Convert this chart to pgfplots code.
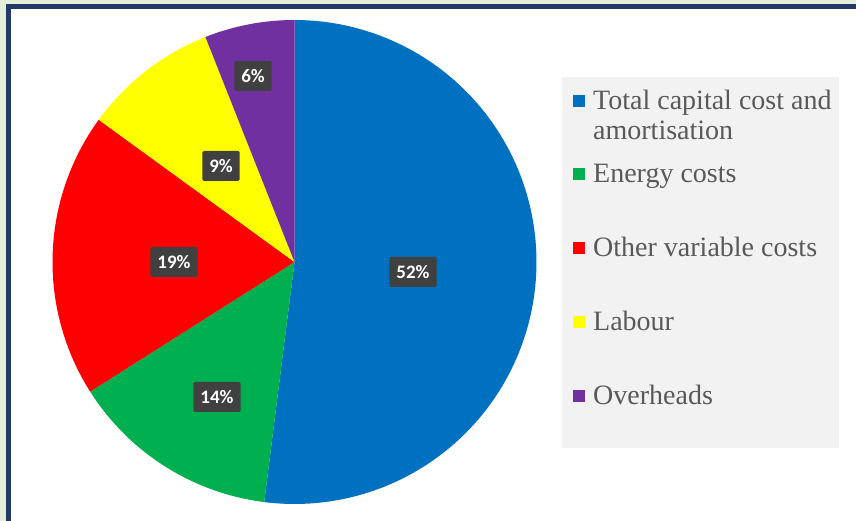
\documentclass[border=0pt]{standalone}
\usepackage{pgfplots}
\pgfplotsset{compat=1.18}
\usepackage{fontspec}
\setmainfont{Liberation Serif}
\newfontfamily\calibri{Carlito}
\definecolor{pblue}{RGB}{0,112,192}
\definecolor{pgreen}{RGB}{0,176,80}
\definecolor{pred}{RGB}{255,0,0}
\definecolor{pyellow}{RGB}{255,255,0}
\definecolor{ppurple}{RGB}{112,48,160}
\definecolor{outbg}{RGB}{228,238,219}
\definecolor{navy}{RGB}{36,58,102}
\definecolor{legbg}{RGB}{242,242,242}
\definecolor{legtxt}{RGB}{89,89,89}
\definecolor{lblbox}{RGB}{64,64,64}
\tikzset{lbl/.style={fill=lblbox,text=white,font=\calibri\bfseries\fontsize{19bp}{22bp}\selectfont,
  inner xsep=7bp,minimum height=30bp,rounded corners=1.5bp}}
\tikzset{leg/.style={anchor=base west,inner sep=0pt,text=legtxt,font=\fontsize{28bp}{30bp}\selectfont}}
% slice shares (percent): 52, 14, 19, 9, 6 ; start at 90 deg, clockwise (3.6 deg per percent)
\begin{document}
\begin{tikzpicture}
\begin{axis}[width=856bp,height=521bp,scale only axis,
  xmin=0,xmax=856,ymin=0,ymax=521,y dir=reverse,hide axis,clip=false,
  set layers]
\begin{pgfonlayer}{axis background}
\fill[outbg] (axis cs:0,0) rectangle (axis cs:856,521);
\fill[navy] (axis cs:6,4) rectangle (axis cs:856,521);
\fill[white] (axis cs:11,9) rectangle (axis cs:856,521);
\fill[legbg] (axis cs:562,77) rectangle (axis cs:839,448);
\end{pgfonlayer}
% 52% : 90 -> -97.2
\addplot[fill=pblue,draw=none,domain=-97.2:90,samples=120]
  ({294.5+242*cos(x)},{262-242*sin(x)}) -- (axis cs:294.5,262) -- cycle;
% 14% : -97.2 -> -147.6
\addplot[fill=pgreen,draw=none,domain=-147.6:-97.2,samples=40]
  ({294.5+242*cos(x)},{262-242*sin(x)}) -- (axis cs:294.5,262) -- cycle;
% 19% : -147.6 -> -216
\addplot[fill=pred,draw=none,domain=-216:-147.6,samples=50]
  ({294.5+242*cos(x)},{262-242*sin(x)}) -- (axis cs:294.5,262) -- cycle;
% 9% : -216 -> -248.4
\addplot[fill=pyellow,draw=none,domain=-248.4:-216,samples=30]
  ({294.5+242*cos(x)},{262-242*sin(x)}) -- (axis cs:294.5,262) -- cycle;
% 6% : -248.4 -> -270
\addplot[fill=ppurple,draw=none,domain=-270:-248.4,samples=25]
  ({294.5+242*cos(x)},{262-242*sin(x)}) -- (axis cs:294.5,262) -- cycle;
\begin{pgfonlayer}{axis foreground}
\node[lbl] at (axis cs:413,272) {52\%};
\node[lbl] at (axis cs:217,397) {14\%};
\node[lbl] at (axis cs:174,262) {19\%};
\node[lbl] at (axis cs:221,166) {9\%};
\node[lbl] at (axis cs:253,76) {6\%};
% legend
\fill[pblue] (axis cs:573,95) rectangle (axis cs:585,107);
\fill[pgreen] (axis cs:573,168) rectangle (axis cs:585,180);
\fill[pred] (axis cs:573,242) rectangle (axis cs:585,254);
\fill[pyellow] (axis cs:573,316) rectangle (axis cs:585,328);
\fill[ppurple] (axis cs:573,390) rectangle (axis cs:585,402);
\node[leg] at (axis cs:593,110) {Total capital cost and};
\node[leg] at (axis cs:593,140) {amortisation};
\node[leg] at (axis cs:593,183) {Energy costs};
\node[leg] at (axis cs:593,257) {Other variable costs};
\node[leg] at (axis cs:593,331) {Labour};
\node[leg] at (axis cs:593,405) {Overheads};
\end{pgfonlayer}
\end{axis}
\end{tikzpicture}
\end{document}
